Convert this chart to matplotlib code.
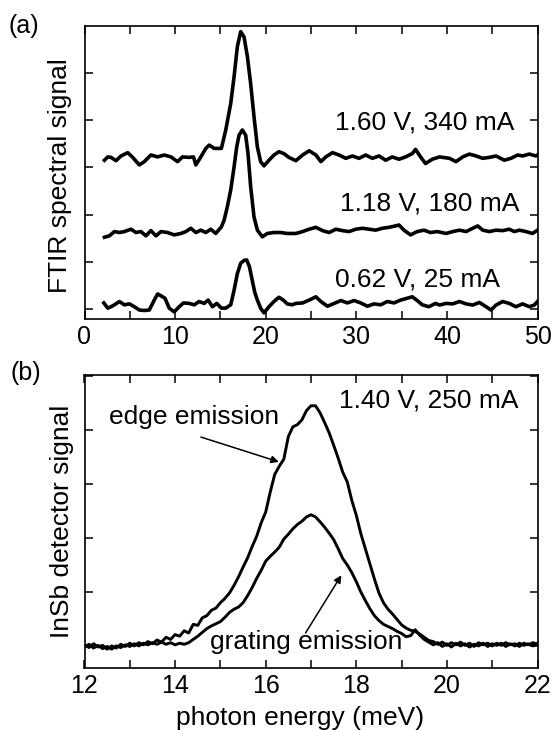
import numpy as np
import matplotlib
matplotlib.use("Agg")
import matplotlib.pyplot as plt

plt.rcParams['font.family'] = ['Liberation Sans', 'DejaVu Sans']

# ---------------- panel (a) data : FTIR spectra (offset traces) ----------------
a1_x = [2.20, 2.57, 2.93, 3.48, 4.03, 4.77, 5.32, 6.05, 6.60, 7.33, 8.07, 8.80, 9.54,
        10.27, 10.82, 11.55, 12.03, 12.29, 12.84, 13.39, 13.76, 14.31, 15.11, 15.59,
        16.14, 16.51, 16.87, 17.24, 17.61, 17.98, 18.34, 18.71, 19.08, 19.44, 19.81,
        20.36, 20.91, 21.46, 22.01, 22.56, 23.33, 24.07, 24.80, 25.54, 26.09, 26.64,
        27.37, 28.10, 28.84, 29.57, 30.30, 31.04, 31.77, 32.51, 33.24, 33.97, 34.71,
        35.44, 36.18, 36.54, 37.09, 37.64, 38.38, 39.18, 40.28, 41.00, 41.75, 42.48,
        43.22, 43.95, 44.68, 45.42, 46.33, 47.07, 47.80, 48.35, 49.09, 49.82, 50.00]
a1_y = [3.15, 3.22, 3.21, 3.14, 3.24, 3.31, 3.21, 3.05, 3.12, 3.26, 3.22, 3.26, 3.22,
        3.12, 3.22, 3.21, 3.22, 3.05, 3.22, 3.40, 3.47, 3.40, 3.40, 3.79,
        4.35, 4.92, 5.55, 5.87, 5.76, 5.34, 4.77, 4.07, 3.43, 3.12, 3.03,
        3.15, 3.26, 3.33, 3.29, 3.21, 3.14, 3.26, 3.35, 3.26, 3.12, 3.22,
        3.31, 3.26, 3.19, 3.24, 3.19, 3.26, 3.19, 3.24, 3.15, 3.22, 3.17,
        3.22, 3.29, 3.38, 3.22, 3.08, 3.17, 3.22, 3.19, 3.12, 3.22, 3.28,
        3.24, 3.19, 3.21, 3.24, 3.15, 3.19, 3.26, 3.24, 3.28, 3.24, 3.26]

a2_x = [2.20, 2.75, 3.30, 3.85, 4.40, 5.13, 5.68, 6.23, 6.78, 7.33, 7.89, 8.44, 9.17,
        9.90, 10.64, 11.19, 11.74, 12.29, 12.84, 13.39, 13.94, 14.49, 15.11, 15.41,
        15.77, 16.14, 16.51, 16.80, 17.06, 17.42, 17.79, 18.05, 18.34, 18.71, 19.08,
        19.63, 20.18, 20.91, 21.64, 22.38, 23.33, 24.07, 24.80, 25.54, 26.27, 27.00,
        27.74, 28.47, 29.20, 29.94, 30.67, 31.41, 32.14, 32.87, 33.61, 34.34, 34.71,
        35.26, 35.99, 36.73, 37.46, 38.19, 38.93, 39.91, 40.65, 41.38, 42.12, 42.85,
        43.40, 43.95, 44.68, 45.42, 46.15, 46.88, 47.44, 47.99, 48.72, 49.45, 50.00]
a2_y = [1.52, 1.55, 1.64, 1.62, 1.64, 1.69, 1.62, 1.64, 1.55, 1.66, 1.55, 1.64, 1.62,
        1.57, 1.60, 1.64, 1.71, 1.62, 1.67, 1.62, 1.69, 1.60, 1.74, 1.88,
        2.17, 2.52, 3.01, 3.43, 3.68, 3.79, 3.68, 3.29, 2.59, 1.95, 1.67,
        1.53, 1.60, 1.62, 1.62, 1.60, 1.60, 1.64, 1.69, 1.73, 1.66, 1.62,
        1.69, 1.66, 1.64, 1.69, 1.71, 1.69, 1.67, 1.71, 1.73, 1.76, 1.78,
        1.67, 1.57, 1.64, 1.67, 1.62, 1.64, 1.60, 1.64, 1.67, 1.64, 1.71,
        1.76, 1.67, 1.64, 1.67, 1.66, 1.69, 1.64, 1.67, 1.64, 1.60, 1.67]

a3_x = [2.13, 2.57, 2.93, 3.30, 3.85, 4.40, 4.95, 5.50, 6.05, 6.60, 7.15, 7.70, 8.07,
        8.44, 8.88, 9.35, 9.90, 10.45, 10.93, 11.55, 12.11, 12.65, 13.21, 13.65, 14.12,
        14.60, 15.11, 15.59, 16.14, 16.51, 16.87, 17.24, 17.61, 17.90, 18.20, 18.50,
        18.80, 19.08, 19.44, 19.81, 20.36, 20.91, 21.46, 21.94, 22.38, 22.93, 23.33,
        24.07, 24.80, 25.54, 26.09, 26.82, 27.56, 28.29, 29.02, 29.75, 30.49, 31.22,
        31.96, 32.69, 33.42, 34.16, 34.89, 35.63, 36.18, 36.73, 37.28, 38.01, 38.74,
        39.18, 39.91, 40.65, 41.38, 42.12, 42.85, 43.58, 44.32, 44.87, 45.42, 46.15,
        46.88, 47.62, 48.35, 49.09, 49.64, 50.00]
a3_y = [0.13, 0.02, 0.05, 0.09, 0.16, 0.09, 0.11, 0.05, -0.02, -0.03, -0.02, 0.19, 0.32,
        0.28, 0.23, 0.02, -0.06, 0.05, 0.13, 0.12, 0.09, 0.16, 0.12, 0.19, 0.05,
        0.12, 0.02, 0.02, 0.09, 0.40, 0.75, 0.97, 1.03, 1.04, 0.90, 0.62,
        0.35, 0.19, 0.02, -0.08, 0.05, 0.16, 0.25, 0.19, 0.11, 0.09, 0.12,
        0.13, 0.19, 0.26, 0.16, 0.06, 0.12, 0.18, 0.13, 0.18, 0.13, 0.06,
        0.11, 0.09, 0.16, 0.13, 0.19, 0.23, 0.26, 0.18, 0.09, 0.05, 0.12,
        0.085, 0.12, 0.11, 0.16, 0.11, 0.085, 0.14, 0.05, -0.02, 0.085, 0.16,
        0.12, 0.05, 0.11, 0.05, 0.085, 0.16]

a_labels = ["1.60 V, 340 mA", "1.18 V, 180 mA", "0.62 V, 25 mA"]
a_xticks = [0, 5, 10, 15, 20, 25, 30, 35, 40, 45, 50]
a_xticklabels = ["0", "", "10", "", "20", "", "30", "", "40", "", "50"]

# ---------------- panel (b) data : InSb detector signal ----------------
b_x = np.round(np.arange(12.0, 22.0001, 0.1), 1)
b_edge = [0.02, -0.03, 0.04, -0.02, 0.01, -0.06, 0.00, -0.04, 0.03, -0.01,
          0.05, 0.00, 0.06, 0.02, 0.08, 0.04, 0.11, 0.07, 0.16, 0.12,
          0.21, 0.18, 0.28, 0.24, 0.40, 0.38, 0.52, 0.56, 0.66, 0.70,
          0.80, 0.88, 0.98, 1.12, 1.28, 1.46, 1.63, 1.84, 2.03, 2.28,
          2.48, 2.85, 3.18, 3.33, 3.46, 3.88, 4.06, 4.10, 4.19, 4.36,
          4.45, 4.45, 4.32, 4.14, 3.95, 3.72, 3.48, 3.22, 3.04, 2.70,
          2.42, 2.08, 1.80, 1.52, 1.24, 0.98, 0.80, 0.68, 0.59, 0.49,
          0.39, 0.33, 0.29, 0.27, 0.22, 0.16, 0.10, 0.08, 0.03, 0.07,
          0.01, 0.06, 0.02, 0.07, 0.01, 0.05, -0.01, 0.06, 0.02, 0.05,
          0.00, 0.05, 0.01, 0.06, 0.02, 0.04, -0.01, 0.05, 0.02, 0.06,
          0.03]
b_grating = [-0.02, 0.03, -0.04, 0.01, -0.05, -0.01, -0.06, 0.00, -0.03, 0.02,
             -0.01, 0.04, 0.00, 0.05, 0.02, 0.06, 0.03, 0.07, 0.03, 0.06,
             0.02, 0.05, 0.03, 0.06, 0.12, 0.18, 0.25, 0.32, 0.37, 0.41,
             0.45, 0.53, 0.62, 0.68, 0.72, 0.80, 0.93, 1.08, 1.25, 1.40,
             1.57, 1.66, 1.74, 1.83, 1.98, 2.07, 2.17, 2.25, 2.31, 2.39,
             2.43, 2.39, 2.30, 2.20, 2.09, 1.97, 1.80, 1.62, 1.50, 1.36,
             1.19, 1.00, 0.84, 0.69, 0.56, 0.47, 0.40, 0.36, 0.32, 0.27,
             0.23, 0.17, 0.19, 0.30, 0.20, 0.12, 0.07, 0.02, 0.06, -0.01,
             0.04, -0.02, 0.05, 0.00, 0.04, -0.02, 0.03, 0.00, 0.05, -0.01,
             0.04, 0.01, 0.05, -0.01, 0.04, 0.00, 0.05, 0.01, 0.04, 0.00,
             0.05]
b_xticks = [12, 13, 14, 15, 16, 17, 18, 19, 20, 21, 22]
b_xticklabels = ["12", "", "14", "", "16", "", "18", "", "20", "", "22"]

# ---------------- figure ----------------
W, H = 554, 730
fig = plt.figure(figsize=(W / 100, H / 100), dpi=100)

def px_axes(left, top, right, bottom):
    return fig.add_axes([left / W, 1 - bottom / H, (right - left) / W, (bottom - top) / H])

axa = px_axes(84.5, 26, 537.5, 319)
axb = px_axes(84.5, 375, 537.5, 667.5)

lw_curve_a = 2.6
lw_curve_b = 2.1
for xs, ys in ((a1_x, a1_y), (a2_x, a2_y), (a3_x, a3_y)):
    axa.plot(xs, ys, color='black', lw=lw_curve_a, solid_joinstyle='round')

axa.set_xlim(0, 50)
axa.set_ylim(-0.21, 5.99)
axa.set_xticks(a_xticks)
axa.set_xticklabels(a_xticklabels)
axa.set_yticks([0, 1, 2, 3, 4, 5])
axa.set_yticklabels([])

tfs = 19
axa.text(37.5, 3.79, a_labels[0], ha='center', va='baseline', fontsize=tfs)
axa.text(38.1, 2.08, a_labels[1], ha='center', va='baseline', fontsize=tfs)
axa.text(36.8, 0.47, a_labels[2], ha='center', va='baseline', fontsize=tfs)

axb.plot(b_x, b_grating, color='black', lw=lw_curve_b)
axb.plot(b_x, b_edge, color='black', lw=lw_curve_b)
axb.set_xlim(12, 22)
axb.set_ylim(-0.40, 5.02)
axb.set_xticks(b_xticks)
axb.set_xticklabels(b_xticklabels)
axb.set_yticks([0, 1, 2, 3, 4, 5])
axb.set_yticklabels([])

axb.text(19.6, 4.42, "1.40 V, 250 mA", ha='center', va='baseline', fontsize=tfs)
axb.text(14.41, 4.12, "edge emission", ha='center', va='baseline', fontsize=tfs)
axb.text(16.89, -0.05, "grating emission", ha='center', va='baseline', fontsize=tfs)

arrowkw = dict(arrowstyle='-|>', lw=1.1, color='black', mutation_scale=11,
               shrinkA=0, shrinkB=0)
axb.annotate("", xy=(16.29, 3.41), xytext=(14.57, 3.87), arrowprops=arrowkw)
axb.annotate("", xy=(17.67, 1.31), xytext=(16.88, 0.24), arrowprops=arrowkw)

for ax in (axa, axb):
    for s in ax.spines.values():
        s.set_linewidth(1.2)
    ax.tick_params(axis='both', which='both', direction='in', top=True, right=True,
                   length=6, width=1.1, labelsize=18, pad=4.5)

fig.text(60 / W, 1 - 176 / H, "FTIR spectral signal", rotation=90, ha='center', va='center', fontsize=tfs)
fig.text(62 / W, 1 - 521.5 / H, "InSb detector signal", rotation=90, ha='center', va='center', fontsize=tfs)
fig.text(300 / W, 1 - 725 / H, "photon energy (meV)", ha='center', va='baseline', fontsize=tfs)
fig.text(24 / W, 1 - 26 / H, "(a)", ha='center', va='center', fontsize=18)
fig.text(25.6 / W, 1 - 373 / H, "(b)", ha='center', va='center', fontsize=18)

fig.savefig("out.png", dpi=100)
